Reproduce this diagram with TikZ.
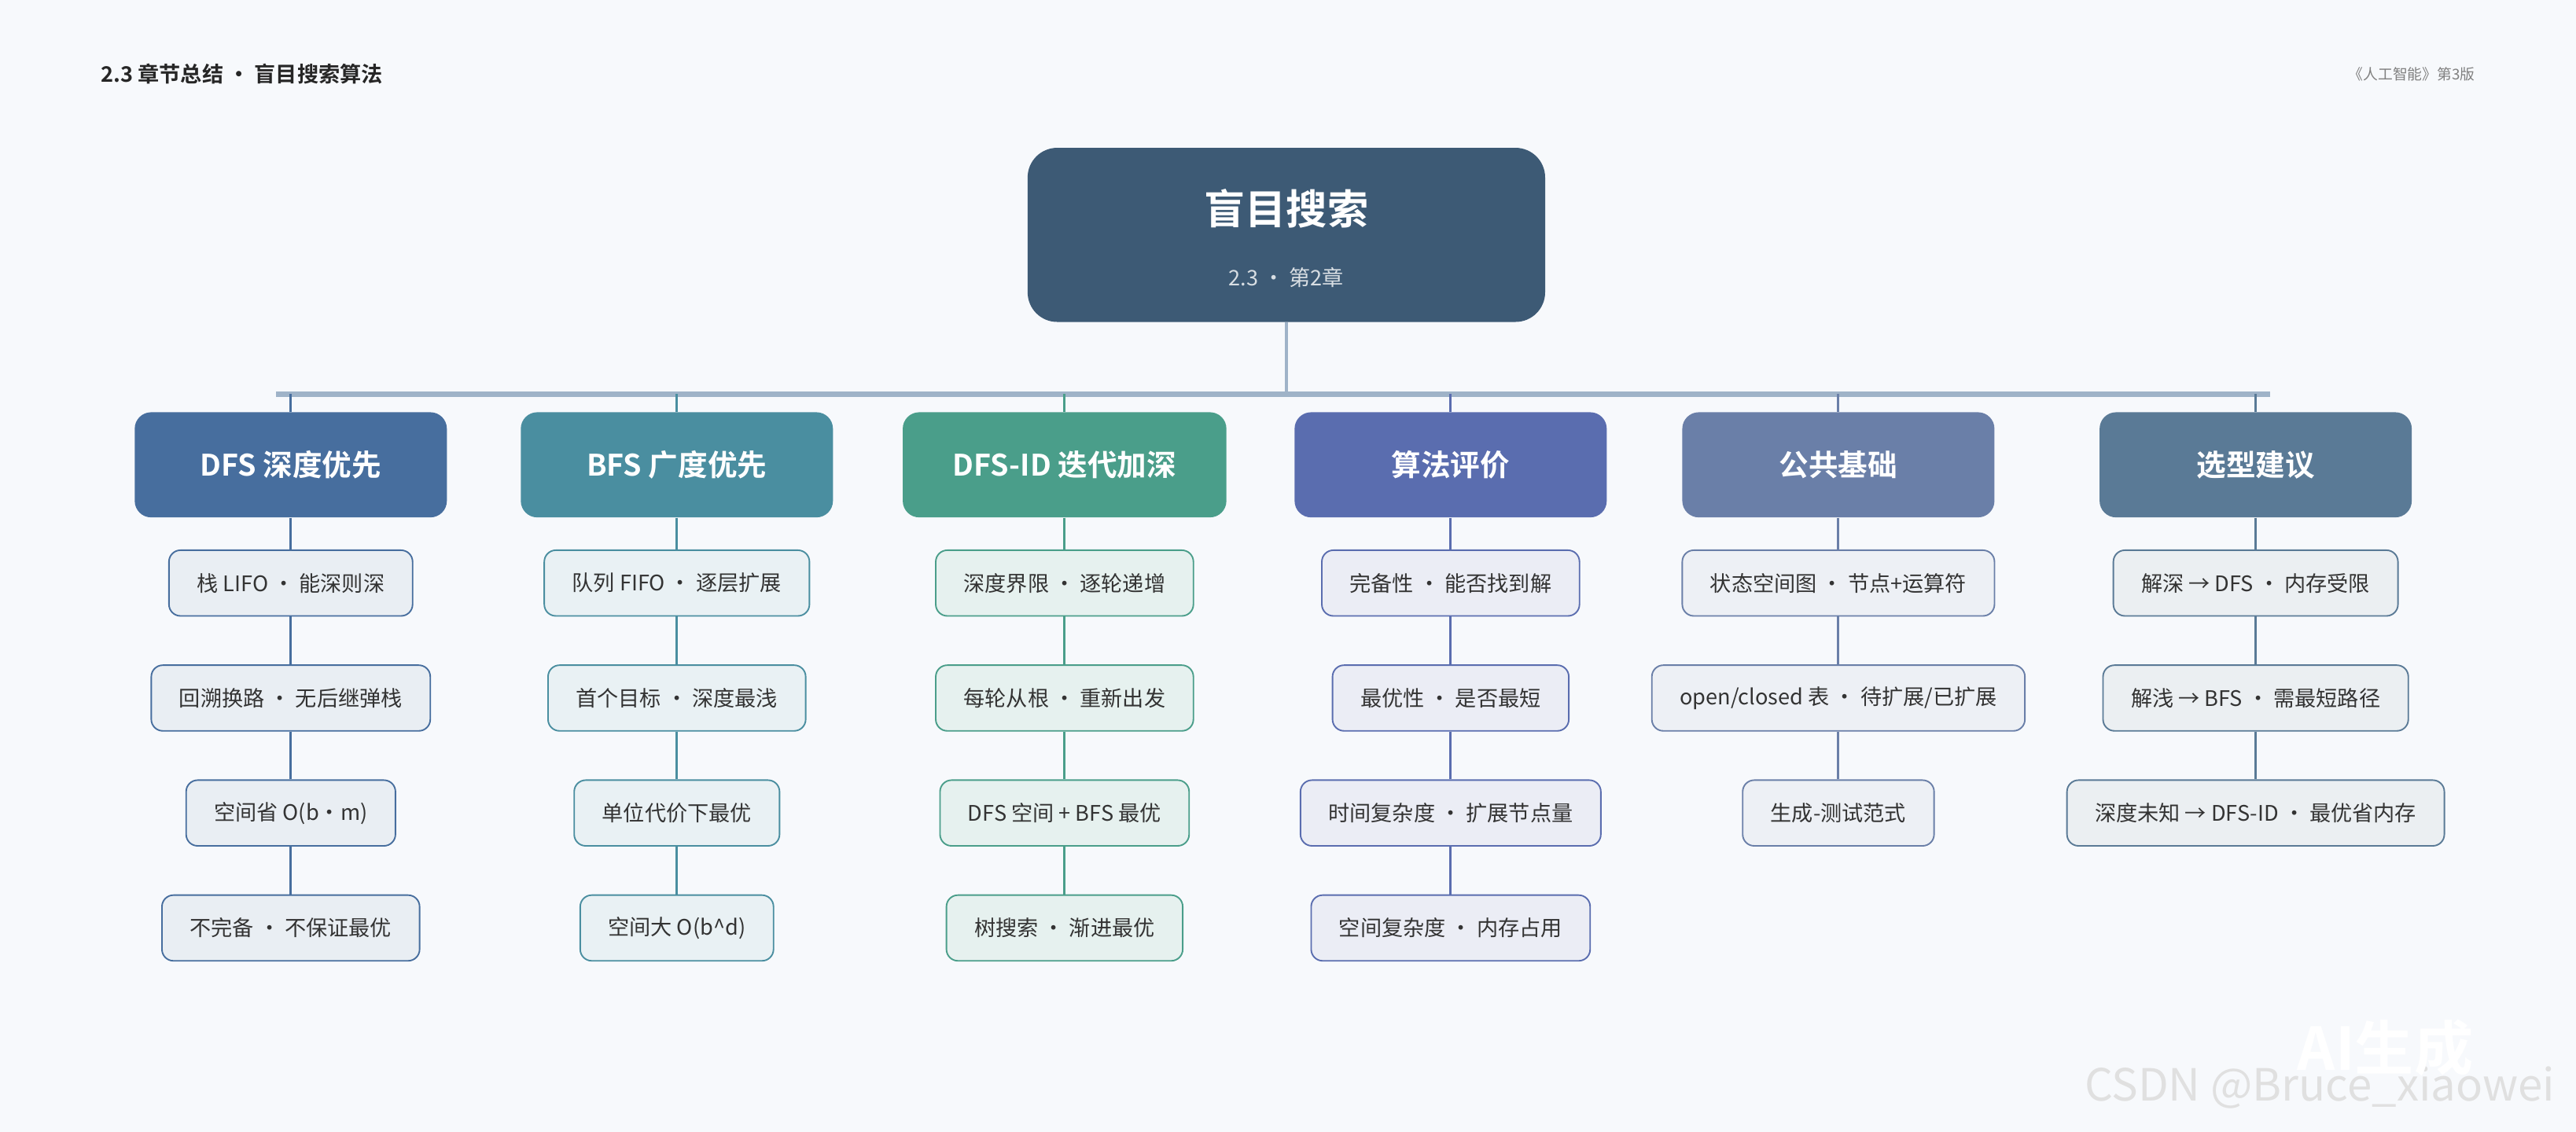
\documentclass[tikz,border=0pt]{standalone}
\usepackage{fontspec}
\setmainfont{Noto Sans CJK SC}[BoldFont={Noto Sans CJK SC Bold}]
\usetikzlibrary{positioning}
\definecolor{bgcol}{HTML}{F7F9FC}
\definecolor{rootcol}{HTML}{3D5A75}
\definecolor{barcol}{HTML}{9FB3C8}
\definecolor{dfscol}{HTML}{476E9E}
\definecolor{bfscol}{HTML}{4A8EA0}
\definecolor{idcol}{HTML}{4A9E8A}
\definecolor{evalcol}{HTML}{5A6DAF}
\definecolor{basecol}{HTML}{6A7FA8}
\definecolor{selcol}{HTML}{5A7A96}
\begin{document}
\begin{tikzpicture}[x=1pt, y=-1pt]

      \tikzset{head/.style={rounded corners=10pt, minimum width=190pt, minimum height=64pt, text=white, font=\fontsize{18}{20}\selectfont\bfseries},
               leaf/.style={draw, rounded corners=7pt, minimum height=40pt, inner xsep=17pt, line width=0.9pt, font=\fontsize{13}{15}\selectfont, text=black!80},
               link/.style={line width=1.4pt}}
%% Canvas
      	\fill[bgcol] (0,0) rectangle (1568,689);
      	\useasboundingbox (0,0) rectangle (1568,689);
      	\node[anchor=west, font=\fontsize{13}{15}\selectfont\bfseries, text=black!85] (title) at (58,45) {2.3 章节总结 · 盲目搜索算法};
      	\node[anchor=east, font=\fontsize{9}{11}\selectfont, text=black!50] (book) at (1510,45) {《人工智能》第3版};
%% Root
      	\node[fill=rootcol, rounded corners=18pt, minimum width=315pt, minimum height=106pt] (root) at (783,143) {};
      	\node[text=white, font=\fontsize{25}{28}\selectfont\bfseries] (rootname) at (783,127) {盲目搜索};
      	\node[text=white!80!rootcol, font=\fontsize{13}{15}\selectfont] (rootsub) at (783,169) {2.3 · 第2章};
      	\coordinate (barl) at (168,240);
      	\coordinate (barr) at (1382,240);
      	\coordinate (barm) at (783,240);
      	\draw[barcol, line width=3pt] (barl) -- (barr);
      	\draw[barcol, line width=2pt] (root) -- (barm);
%% Heads
      	\node[head, fill=dfscol] (dfs) at (177,283) {DFS 深度优先};
      	\node[head, fill=bfscol] (bfs) at (412,283) {BFS 广度优先};
      	\node[head, fill=idcol, minimum width=197pt] (dfsid) at (648,283) {DFS-ID 迭代加深};
      	\node[head, fill=evalcol] (eval) at (883,283) {算法评价};
      	\node[head, fill=basecol] (base) at (1119,283) {公共基础};
      	\node[head, fill=selcol] (sel) at (1373,283) {选型建议};
%% Leaves
      	\node[leaf, draw=dfscol, fill=dfscol!12!white] (dfs1) at (177,355) {栈 LIFO · 能深则深};
      	\node[leaf, draw=dfscol, fill=dfscol!12!white] (dfs2) at (177,425) {回溯换路 · 无后继弹栈};
      	\node[leaf, draw=dfscol, fill=dfscol!12!white] (dfs3) at (177,495) {空间省 O(b·m)};
      	\node[leaf, draw=dfscol, fill=dfscol!12!white] (dfs4) at (177,565) {不完备 · 不保证最优};
      	\node[leaf, draw=bfscol, fill=bfscol!12!white] (bfs1) at (412,355) {队列 FIFO · 逐层扩展};
      	\node[leaf, draw=bfscol, fill=bfscol!12!white] (bfs2) at (412,425) {首个目标 · 深度最浅};
      	\node[leaf, draw=bfscol, fill=bfscol!12!white] (bfs3) at (412,495) {单位代价下最优};
      	\node[leaf, draw=bfscol, fill=bfscol!12!white] (bfs4) at (412,565) {空间大 O(b\^{}d)};
      	\node[leaf, draw=idcol, fill=idcol!14!white] (id1) at (648,355) {深度界限 · 逐轮递增};
      	\node[leaf, draw=idcol, fill=idcol!14!white] (id2) at (648,425) {每轮从根 · 重新出发};
      	\node[leaf, draw=idcol, fill=idcol!14!white] (id3) at (648,495) {DFS 空间 + BFS 最优};
      	\node[leaf, draw=idcol, fill=idcol!14!white] (id4) at (648,565) {树搜索 · 渐进最优};
      	\node[leaf, draw=evalcol, fill=evalcol!12!white] (ev1) at (883,355) {完备性 · 能否找到解};
      	\node[leaf, draw=evalcol, fill=evalcol!12!white] (ev2) at (883,425) {最优性 · 是否最短};
      	\node[leaf, draw=evalcol, fill=evalcol!12!white] (ev3) at (883,495) {时间复杂度 · 扩展节点量};
      	\node[leaf, draw=evalcol, fill=evalcol!12!white] (ev4) at (883,565) {空间复杂度 · 内存占用};
      	\node[leaf, draw=basecol, fill=basecol!12!white] (ba1) at (1119,355) {状态空间图 · 节点+运算符};
      	\node[leaf, draw=basecol, fill=basecol!12!white] (ba2) at (1119,425) {open/closed 表 · 待扩展/已扩展};
      	\node[leaf, draw=basecol, fill=basecol!12!white] (ba3) at (1119,495) {生成-测试范式};
      	\node[leaf, draw=selcol, fill=selcol!12!white] (se1) at (1373,355) {解深 → DFS · 内存受限};
      	\node[leaf, draw=selcol, fill=selcol!12!white] (se2) at (1373,425) {解浅 → BFS · 需最短路径};
      	\node[leaf, draw=selcol, fill=selcol!12!white] (se3) at (1373,495) {深度未知 → DFS-ID · 最优省内存};
%% Links
      	\coordinate (t1) at (177,240); \coordinate (t2) at (412,240); \coordinate (t3) at (648,240);
      	\coordinate (t4) at (883,240); \coordinate (t5) at (1119,240); \coordinate (t6) at (1373,240);
		\draw[link, dfscol] (t1) -- (dfs) (dfs) -- (dfs1) (dfs1) -- (dfs2) (dfs2) -- (dfs3) (dfs3) -- (dfs4);
		\draw[link, bfscol] (t2) -- (bfs) (bfs) -- (bfs1) (bfs1) -- (bfs2) (bfs2) -- (bfs3) (bfs3) -- (bfs4);
		\draw[link, idcol] (t3) -- (dfsid) (dfsid) -- (id1) (id1) -- (id2) (id2) -- (id3) (id3) -- (id4);
		\draw[link, evalcol] (t4) -- (eval) (eval) -- (ev1) (ev1) -- (ev2) (ev2) -- (ev3) (ev3) -- (ev4);
		\draw[link, basecol] (t5) -- (base) (base) -- (ba1) (ba1) -- (ba2) (ba2) -- (ba3);
		\draw[link, selcol] (t6) -- (sel) (sel) -- (se1) (se1) -- (se2) (se2) -- (se3);
%% Watermark
      	\node[text=black!12, font=\fontsize{27}{30}\selectfont] (wm) at (1412,662) {CSDN @Bruce\_xiaowei};
      	\node[text=white, draw=none, font=\fontsize{36}{40}\selectfont\bfseries] (ai) at (1452,638) {AI生成};

	\end{tikzpicture}
\end{document}
